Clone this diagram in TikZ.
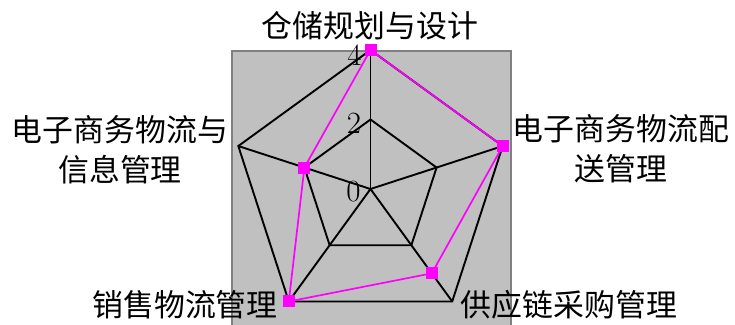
\documentclass[tikz,border=0pt]{standalone}
\usepackage{fontspec}
\newfontfamily\cjk{Noto Sans CJK SC}
\usetikzlibrary{calc}
\definecolor{mag}{RGB}{255,0,255}
\definecolor{panel}{RGB}{192,192,192}
\definecolor{panelborder}{RGB}{128,128,128}
\tikzset{
  gridline/.style={black,line width=1.9bp,line join=miter},
  series/.style={mag,line width=1.7bp},
  mk/.style={rectangle,fill=mag,minimum size=12bp,inner sep=0pt},
  axlabel/.style={font=\cjk\fontsize{31}{40}\selectfont,inner sep=0pt,align=center},
  ticklabel/.style={font=\fontsize{31}{31}\selectfont,inner sep=0pt}
}
\begin{document}
\begin{tikzpicture}[x=1bp,y=1bp]
\useasboundingbox (0,0) rectangle (735,324);
\draw[fill=panel,draw=panelborder,line width=1.6bp] (232,-3) rectangle (511,273);
\coordinate (c) at (370.5,135);
\foreach \a [count=\i] in {90,18,-54,-126,162} {
  \coordinate (o\i) at ($(c)+(\a:139)$);
  \coordinate (m\i) at ($(c)+(\a:69.5)$);
}
\foreach \i in {1,...,5} { \draw[gridline] (c) -- (o\i); }
\draw[gridline] (o1) -- (o2) -- (o3) -- (o4) -- (o5) -- cycle;
\draw[gridline] (m1) -- (m2) -- (m3) -- (m4) -- (m5) -- cycle;
\node[ticklabel] (t4) at (354.5,269) {4};
\node[ticklabel] (t2) at (354,200.5) {2};
\node[ticklabel] (t0) at (353.5,132.5) {0};
\coordinate (d1) at (o1);
\coordinate (d2) at (o2);
\coordinate (d3) at ($(c)+(-54:104.25)$);
\coordinate (d4) at (o4);
\coordinate (d5) at (m5);
\draw[series] (d1) -- (d2) -- (d3) -- (d4) -- (d5) -- cycle;
\foreach \i in {1,...,5} { \node[mk] (p\i) at (d\i) {}; }
\node[axlabel] (l1) at (370,298) {仓储规划与设计};
\node[axlabel] (l2) at (621,175) {电子商务物流配\\送管理};
\node[axlabel] (l3) at (569,19) {供应链采购管理};
\node[axlabel] (l4) at (185,19) {销售物流管理};
\node[axlabel] (l5) at (120,174) {电子商务物流与\\信息管理};
\end{tikzpicture}
\end{document}
